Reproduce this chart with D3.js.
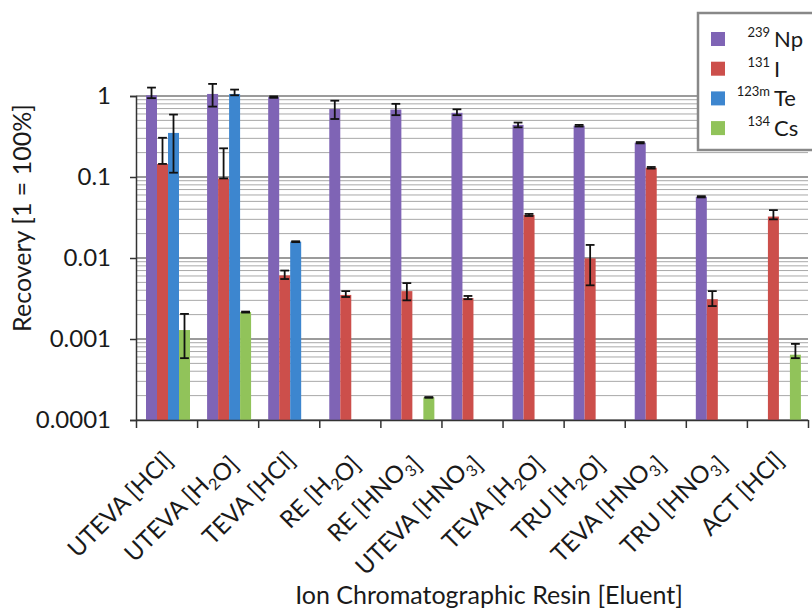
<!DOCTYPE html>
<html>
<head>
<meta charset="utf-8">
<script src="https://cdn.jsdelivr.net/npm/d3@7"></script>
<style>
  body { margin: 0; background: #fff; }
  text { font-family: Lato, 'Open Sans', sans-serif; fill: #1a1a1a; }
</style>
</head>
<body>
<svg id="chart" width="812" height="611"></svg>
<script>
// resin [eluent] categories (digits after a letter become subscripts)
const categories = [
  'UTEVA [HCl]', 'UTEVA [H2O]', 'TEVA [HCl]', 'RE [H2O]', 'RE [HNO3]',
  'UTEVA [HNO3]', 'TEVA [H2O]', 'TRU [H2O]', 'TEVA [HNO3]', 'TRU [HNO3]', 'ACT [HCl]'
];
const seriesMass = ['239', '131', '123m', '134'];
const seriesSymbol = ['Np', 'I', 'Te', 'Cs'];
const yTickValues = [0.0001, 0.001, 0.01, 0.1, 1];

// recovery values (null = not measured)
const npVals = [1.02, 1.06, 0.97, 0.69, 0.68, 0.62, 0.44, 0.43, 0.265, 0.057, null];
const iVals  = [0.145, 0.096, 0.0061, 0.0035, 0.0039, 0.0032, 0.034, 0.0099, 0.13, 0.0031, 0.0325];
const teVals = [0.35, 1.06, 0.0159, null, null, null, null, null, null, null, null];
const csVals = [0.00129, 0.00215, null, null, 0.00019, null, null, null, null, null, 0.00064];

// error bar ends (low / high)
const npLo = [0.94, 0.74, 0.95, 0.52, 0.58, 0.58, 0.41, 0.42, 0.26, 0.056, null];
const npHi = [1.27, 1.41, 0.99, 0.875, 0.80, 0.685, 0.47, 0.44, 0.27, 0.058, null];
const iLo  = [0.145, 0.096, 0.0055, 0.0033, 0.0030, 0.0031, 0.033, 0.0046, 0.127, 0.00255, 0.030];
const iHi  = [0.305, 0.226, 0.0070, 0.0039, 0.0049, 0.0034, 0.035, 0.0145, 0.133, 0.0039, 0.039];
const teLo = [0.113, 1.02, 0.0157, null, null, null, null, null, null, null, null];
const teHi = [0.59, 1.20, 0.0161, null, null, null, null, null, null, null, null];
const csLo = [0.00058, 0.00212, null, null, 0.000188, null, null, null, null, null, 0.00058];
const csHi = [0.00204, 0.00218, null, null, 0.000192, null, null, null, null, null, 0.00087];

const colors = ['#7f64b5', '#cc4f4b', '#3d86cf', '#91c35a'];

const seriesVals = [npVals, iVals, teVals, csVals];
const seriesLo = [npLo, iLo, teLo, csLo];
const seriesHi = [npHi, iHi, teHi, csHi];

const svg = d3.select('#chart');
const plotLeft = 136, plotRight = 808, plotTop = 96, plotBottom = 420;

let x0 = d3.scaleBand().domain(categories).range([plotLeft, plotRight]);
let x1 = d3.scaleBand().domain(d3.range(4)).range([10, 54]);
let xIdx = d3.scaleLinear().domain([0, categories.length]).range([plotLeft, plotRight]);
let y = d3.scaleLog().domain([0.0001, 1]).range([plotBottom, plotTop]);

// grid lines, minor then major
let grid = svg.append('g');
let minor = y.ticks().filter(d => Math.abs(Math.log10(d) - Math.round(Math.log10(d))) > 1e-6);
grid.selectAll('line.minor')
  .data(minor)
  .enter()
  .append('line')
  .attr('class', 'minor')
  .attr('x1', plotLeft)
  .attr('x2', plotRight)
  .attr('y1', d => y(d))
  .attr('y2', d => y(d))
  .attr('stroke', '#a8a8a8')
  .attr('stroke-width', 1);
grid.selectAll('line.major')
  .data(yTickValues)
  .enter()
  .append('line')
  .attr('class', 'major')
  .attr('x1', plotLeft)
  .attr('x2', plotRight)
  .attr('y1', d => y(d))
  .attr('y2', d => y(d))
  .attr('stroke', '#7a7a7a')
  .attr('stroke-width', 1.5);

// bars
let bars = svg.append('g');
seriesVals.forEach((vals, s) => {
  bars.selectAll(`rect.s${s}`)
    .data(categories.map((c, i) => ({ c, v: vals[i] })).filter(d => d.v != null))
    .enter()
    .append('rect')
    .attr('class', `s${s}`)
    .attr('x', d => x0(d.c) + x1(s))
    .attr('width', x1.bandwidth())
    .attr('y', d => y(d.v))
    .attr('height', d => plotBottom - y(d.v))
    .attr('fill', colors[s]);
});

// error bars
let errs = svg.append('g').attr('stroke', '#111').attr('stroke-width', 1.8);
seriesVals.forEach((vals, s) => {
  categories.forEach((c, i) => {
    let lo = seriesLo[s][i], hi = seriesHi[s][i];
    if (vals[i] == null || lo == null) return;
    let cx = x0(c) + x1(s) + x1.bandwidth() / 2;
    let hw = x1.bandwidth() * 0.4;
    errs.append('line').attr('x1', cx).attr('x2', cx).attr('y1', y(lo)).attr('y2', y(hi));
    errs.append('line').attr('x1', cx - hw).attr('x2', cx + hw).attr('y1', y(lo)).attr('y2', y(lo));
    errs.append('line').attr('x1', cx - hw).attr('x2', cx + hw).attr('y1', y(hi)).attr('y2', y(hi));
  });
});

// y axis
let yAxis = svg.append('g')
  .attr('transform', `translate(${plotLeft},0)`)
  .call(d3.axisLeft(y).tickValues(yTickValues).tickFormat(d => String(d)).tickSize(6).tickPadding(19));
yAxis.select('.domain').attr('stroke', '#333').attr('stroke-width', 1.5);
yAxis.selectAll('.tick line').attr('stroke', '#333').attr('stroke-width', 1.5);
yAxis.selectAll('.tick text')
  .style('font-family', 'Lato, sans-serif')
  .style('font-size', '24px')
  .attr('fill', '#1a1a1a');

// x axis (ticks between categories)
let xAxis = svg.append('g')
  .attr('transform', `translate(0,${plotBottom})`)
  .call(d3.axisBottom(xIdx).tickValues(d3.range(categories.length + 1)).tickFormat('').tickSize(8).tickSizeOuter(0));
xAxis.select('.domain').attr('stroke', '#333').attr('stroke-width', 1.5);
xAxis.selectAll('.tick line').attr('stroke', '#333').attr('stroke-width', 1.5);

// rotated category labels
let labels = svg.append('g');
categories.forEach(c => {
  let t = labels.append('text')
    .attr('text-anchor', 'end')
    .attr('transform', `translate(${x0(c) + x0.bandwidth() / 2 + 8},${plotBottom + 42}) rotate(-45)`)
    .style('font-size', '24px');
  c.split(/(?<=[A-Z])(\d)/).forEach(part => {
    if (/^\d$/.test(part)) {
      t.append('tspan').attr('dy', 6).style('font-size', '16px').text(part);
      t.append('tspan').attr('dy', -6).text('');
    } else if (part) {
      t.append('tspan').text(part);
    }
  });
});

// axis titles
svg.append('text')
  .attr('x', 489)
  .attr('y', 604)
  .attr('text-anchor', 'middle')
  .style('font-size', '25px')
  .text('Ion Chromatographic Resin [Eluent]');

svg.append('text')
  .attr('transform', 'translate(31,218) rotate(-90)')
  .attr('text-anchor', 'middle')
  .style('font-size', '25px')
  .text('Recovery [1 = 100%]');

// legend
let legend = svg.append('g');
legend.append('rect')
  .attr('x', 698)
  .attr('y', 13)
  .attr('width', 130)
  .attr('height', 137)
  .attr('fill', '#fff')
  .attr('stroke', '#888')
  .attr('stroke-width', 2.5);
seriesSymbol.forEach((sym, s) => {
  let cy = 39 + s * 29.7;
  legend.append('rect')
    .attr('x', 711)
    .attr('y', cy - 7)
    .attr('width', 14)
    .attr('height', 14)
    .attr('fill', colors[s]);
  legend.append('text')
    .attr('x', 770)
    .attr('y', cy - 2)
    .attr('text-anchor', 'end')
    .style('font-size', '13px')
    .text(seriesMass[s]);
  legend.append('text')
    .attr('x', 774)
    .attr('y', cy + 8)
    .style('font-size', '22px')
    .text(sym);
});
</script>
</body>
</html>
